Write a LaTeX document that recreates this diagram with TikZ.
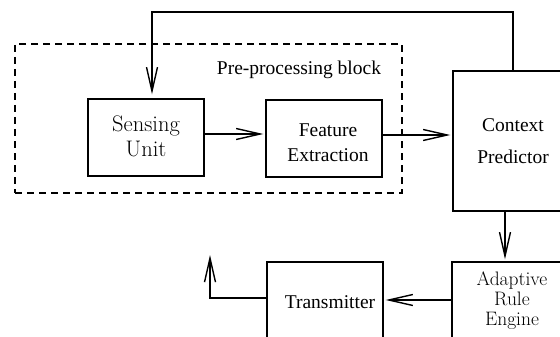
\documentclass[tikz,border=0pt]{standalone}
\usepackage{fontspec}
\newfontfamily\tms{Liberation Serif}
\usetikzlibrary{arrows.meta}
\begin{document}
\begin{tikzpicture}[x=1pt,y=-1pt,
  box/.style={draw,line width=1.4pt,inner sep=0pt,minimum width=#1},
  lmtext/.style={align=center,inner sep=0pt,font=\fontsize{22.5}{25}\selectfont},
  tmtext/.style={align=center,inner sep=0pt,font=\tms\fontsize{19.5}{25}\selectfont},
  conn/.style={line width=1.4pt,-{Straight Barb[length=24pt,width=11pt,line width=1.4pt]},shorten >=2pt},
  line/.style={line width=1.4pt}]
\clip (0,0) rectangle (560,337);
\fill[white] (0,0) rectangle (560,337);
% pre-processing block
\node[draw,line width=1.4pt,dash pattern=on 7pt off 5pt,inner sep=0pt,minimum width=387pt,minimum height=149pt] (pre) at (208.5,118.5) {};
\node[tmtext,anchor=base] (preT) at (299,75) {Pre-processing block};
% boxes
\node[box=116pt,minimum height=77pt] (sense) at (146,137.5) {};
\node[box=116pt,minimum height=77pt] (feat) at (324,138.5) {};
\node[box=118pt,minimum height=140pt] (ctx) at (512,141) {};
\node[box=120pt,minimum height=80pt] (are) at (512,302) {};
\node[box=116pt,minimum height=80pt] (tx) at (325,302) {};
% texts
\node[lmtext] (senseT) at (146,136) {Sensing\\Unit};
\node[tmtext] (featT) at (328,143) {Feature\\Extraction};
\node[tmtext,font=\tms\fontsize{19.5}{32}\selectfont] (ctxT) at (513,141) {Context\\Predictor};
\node[tmtext,anchor=base] (txT) at (330,308) {Transmitter};
\node[lmtext,font=\fontsize{19.5}{20}\selectfont] (areT) at (512,301) {Adaptive\\{\addfontfeature{LetterSpace=12}Rule}\\Engine};
% connectors
\coordinate (fbtop) at (513,12);
\draw[conn,shorten >=4pt] ([xshift=1pt]ctx.north) |- (fbtop) -| (sense.north -| 152,0);
\draw[conn] (sense.east |- 0,134) -- (feat.west |- 0,134);
\draw[conn] (feat.east |- 0,135) -- (ctx.west |- 0,135);
\draw[conn] (ctx.south -| 505,0) -- (are.north -| 505,0);
\draw[conn] (are.west |- 0,300) -- (tx.east |- 0,300);
\coordinate (outp) at (210,255);
\draw[conn,shorten >=0pt] (tx.west |- 0,298) -| (outp);
\end{tikzpicture}
\end{document}
